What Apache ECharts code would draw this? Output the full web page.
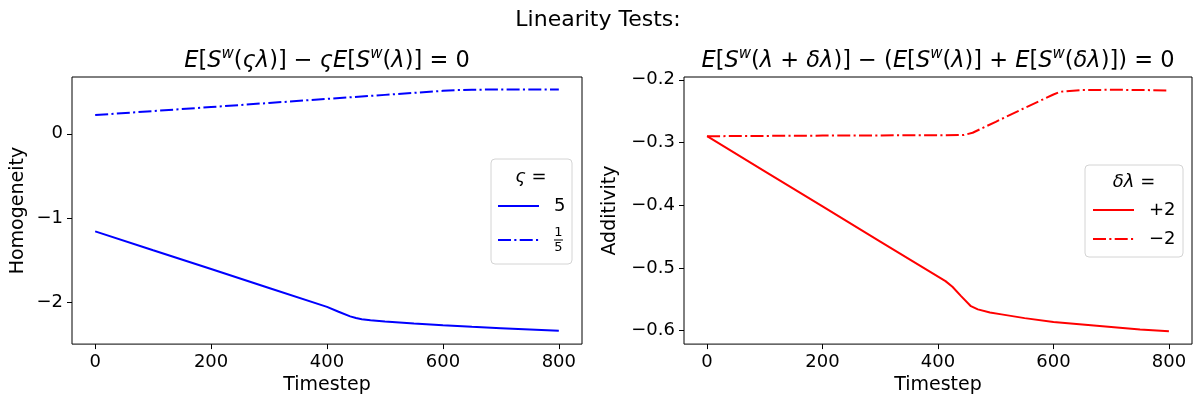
<!DOCTYPE html>
<html>
<head>
<meta charset="utf-8">
<script src="https://cdn.jsdelivr.net/npm/echarts@6/dist/echarts.min.js"></script>
<style>
html,body{margin:0;padding:0;background:#fff;}
#c{width:1196px;height:400px;}
</style>
</head>
<body>
<div id="c"></div>
<script>
// ---- data ----
const xTicks = [0, 200, 400, 600, 800];
const yTicksLeft = [-2, -1, 0];
const yTicksRight = [-0.6, -0.5, -0.4, -0.3, -0.2];

const tHomog5 = [0, 100, 200, 300, 400, 420, 440, 450, 460, 475, 500, 550, 600, 650, 700, 750, 800];
const homog5  = [-1.157, -1.381, -1.604, -1.828, -2.052, -2.11, -2.165, -2.185, -2.198, -2.21, -2.225, -2.25, -2.27, -2.288, -2.305, -2.321, -2.337];

const tHomog15 = [0, 100, 200, 300, 400, 500, 600, 620, 650, 700, 750, 800];
const homog15  = [0.223, 0.27, 0.318, 0.366, 0.414, 0.462, 0.51, 0.518, 0.523, 0.526, 0.527, 0.527];

const tAddPlus = [0, 100, 200, 300, 413, 425, 440, 457, 469, 490, 510, 550, 600, 650, 700, 750, 800];
const addPlus2 = [-0.290, -0.346, -0.402, -0.458, -0.521, -0.530, -0.545, -0.561, -0.566, -0.571, -0.574, -0.580, -0.586, -0.590, -0.594, -0.598, -0.601];

const tAddMinus = [0, 100, 200, 300, 400, 445, 460, 500, 550, 600, 612, 650, 700, 750, 800];
const addMinus2 = [-0.290, -0.2895, -0.289, -0.2887, -0.2885, -0.288, -0.2845, -0.267, -0.245, -0.2235, -0.219, -0.2165, -0.216, -0.2163, -0.217];

const pairs = (t, v) => t.map((x, i) => [x, v[i]]);

const FONT = 'DejaVu Sans';
const DASHDOT = [13, 3.3, 2.1, 3.3];
const minus = v => String(v).replace('-', '\u2212');

const chart = echarts.init(document.getElementById('c'), null, {renderer: 'canvas'});

const axisCommon = {
  axisLine: {show: false, onZero: false},
  splitLine: {show: false},
  axisTick: {show: true, inside: false, length: 5, lineStyle: {color: '#000', width: 1}},
};

const mathRich = {
  i: {fontStyle: 'italic', fontFamily: FONT, fontSize: 22.5, lineHeight: 28, color: '#000'},
  s: {fontStyle: 'italic', fontFamily: FONT, fontSize: 15, lineHeight: 15, verticalAlign: 'top', color: '#000'}
};

const legendRich = {
  i: {fontStyle: 'italic', fontFamily: FONT, fontSize: 18, color: '#000'},
  n: {fontFamily: FONT, fontSize: 13, lineHeight: 12, align: 'center', color: '#000'},
  b: {width: 9, height: 1, lineHeight: 3, backgroundColor: '#000', align: 'center'},
  d: {fontFamily: FONT, fontSize: 13, lineHeight: 12, align: 'center', color: '#000'}
};

const legendNames = {
  '5': '5',
  '1/5': '{n|1}\n{b|\u00a0}\n{d|5}',
  '+2': '+2',
  '\u22122': '\u22122'
};

function mkLegend(name, left, top) {
  return {
    data: [name], left: left, top: top, padding: 0,
    itemWidth: 41, itemHeight: 14, z: 10,
    itemStyle: {opacity: 0, borderWidth: 0},
    formatter: n => legendNames[n],
    textStyle: {fontFamily: FONT, fontSize: 18, color: '#000', padding: [0, 0, 0, 10], rich: legendRich},
    selectedMode: false
  };
}

const option = {
  animation: false,
  backgroundColor: '#fff',
  title: {
    text: 'Linearity Tests:', left: 'center', top: 4,
    textStyle: {fontFamily: FONT, fontSize: 22, fontWeight: 'normal', color: '#000'}
  },
  grid: [
    {left: 72, top: 77, width: 510, height: 269, show: true, borderColor: '#000', borderWidth: 1, backgroundColor: 'transparent'},
    {left: 684, top: 77, width: 508, height: 269, show: true, borderColor: '#000', borderWidth: 1, backgroundColor: 'transparent'}
  ],
  xAxis: [0, 1].map(g => Object.assign({}, axisCommon, {
    type: 'value', gridIndex: g, min: -40, max: 840, position: 'bottom',
    axisTick: Object.assign({}, axisCommon.axisTick, {customValues: xTicks}),
    axisLabel: {customValues: xTicks, margin: 9, fontFamily: FONT, fontSize: 18, color: '#000'},
    name: 'Timestep', nameLocation: 'middle', nameGap: 31,
    nameTextStyle: {fontFamily: FONT, fontSize: 19, color: '#000'}
  })),
  yAxis: [
    Object.assign({}, axisCommon, {
      type: 'value', gridIndex: 0, min: -2.494, max: 0.674, position: 'left',
      axisTick: Object.assign({}, axisCommon.axisTick, {customValues: yTicksLeft}),
      axisLabel: {customValues: yTicksLeft, margin: 9, fontFamily: FONT, fontSize: 18, color: '#000', formatter: minus},
      name: 'Homogeneity', nameLocation: 'middle', nameGap: 44,
      nameTextStyle: {fontFamily: FONT, fontSize: 19, color: '#000'}
    }),
    Object.assign({}, axisCommon, {
      type: 'value', gridIndex: 1, min: -0.6214, max: -0.1956, position: 'left',
      axisTick: Object.assign({}, axisCommon.axisTick, {customValues: yTicksRight}),
      axisLabel: {customValues: yTicksRight, margin: 9, fontFamily: FONT, fontSize: 18, color: '#000', formatter: v => minus(v.toFixed(1))},
      name: 'Additivity', nameLocation: 'middle', nameGap: 64,
      nameTextStyle: {fontFamily: FONT, fontSize: 19, color: '#000'}
    })
  ],
  legend: [
    mkLegend('5', 497, 197),
    mkLegend('1/5', 497, 226),
    mkLegend('+2', 1092, 201),
    mkLegend('\u22122', 1092, 230)
  ],
  graphic: [
    {type: 'text', x: 327, y: 61, z: 10, style: {
      text: '{i|E}[{i|S}{s|w}({i|ςλ})] \u2212 {i|ςE}[{i|S}{s|w}({i|λ})] = 0',
      rich: mathRich, fontFamily: FONT, fontSize: 22.5, lineHeight: 28, fill: '#000', align: 'center', verticalAlign: 'middle'}},
    {type: 'text', x: 938, y: 61, z: 10, style: {
      text: '{i|E}[{i|S}{s|w}({i|λ} + {i|δλ})] \u2212 ({i|E}[{i|S}{s|w}({i|λ})] + {i|E}[{i|S}{s|w}({i|δλ})]) = 0',
      rich: mathRich, fontFamily: FONT, fontSize: 22.5, lineHeight: 28, fill: '#000', align: 'center', verticalAlign: 'middle'}},
    {type: 'rect', z: 5, shape: {x: 491, y: 159, width: 81, height: 105, r: 4},
      style: {fill: 'rgba(255,255,255,0.8)', stroke: '#d4d4d4', lineWidth: 1}},
    {type: 'text', x: 531, y: 177, z: 10, style: {text: '{i|ς} =', rich: legendRich, fontFamily: FONT, fontSize: 18, fill: '#000', align: 'center', verticalAlign: 'middle'}},
    {type: 'rect', z: 5, shape: {x: 1085, y: 165, width: 98, height: 92, r: 4},
      style: {fill: 'rgba(255,255,255,0.8)', stroke: '#d4d4d4', lineWidth: 1}},
    {type: 'text', x: 1134, y: 182, z: 10, style: {text: '{i|δλ} =', rich: legendRich, fontFamily: FONT, fontSize: 18, fill: '#000', align: 'center', verticalAlign: 'middle'}}
  ],
  series: [
    {name: '5', type: 'line', xAxisIndex: 0, yAxisIndex: 0, data: pairs(tHomog5, homog5),
      symbol: 'none', lineStyle: {color: '#0000ff', width: 2}, itemStyle: {color: '#0000ff'}},
    {name: '1/5', type: 'line', xAxisIndex: 0, yAxisIndex: 0, data: pairs(tHomog15, homog15),
      symbol: 'none', lineStyle: {color: '#0000ff', width: 2, type: DASHDOT}, itemStyle: {color: '#0000ff'}},
    {name: '+2', type: 'line', xAxisIndex: 1, yAxisIndex: 1, data: pairs(tAddPlus, addPlus2),
      symbol: 'none', lineStyle: {color: '#ff0000', width: 2}, itemStyle: {color: '#ff0000'}},
    {name: '\u22122', type: 'line', xAxisIndex: 1, yAxisIndex: 1, data: pairs(tAddMinus, addMinus2),
      symbol: 'none', lineStyle: {color: '#ff0000', width: 2, type: DASHDOT}, itemStyle: {color: '#ff0000'}}
  ]
};
chart.setOption(option);
</script>
</body>
</html>
